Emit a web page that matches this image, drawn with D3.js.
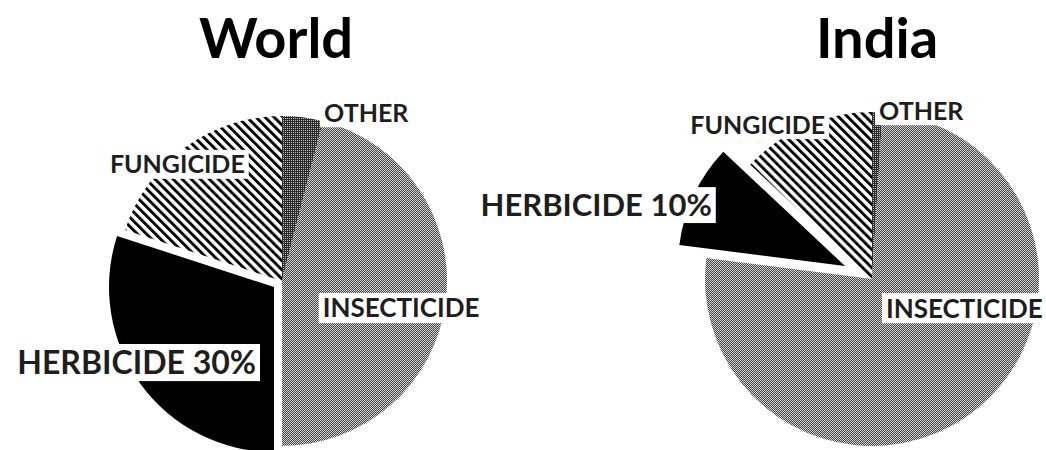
<!doctype html>
<html>
<head>
<meta charset="utf-8">
<script src="https://cdn.jsdelivr.net/npm/d3@7"></script>
<style>
  body { margin: 0; background: #fff; }
  svg { display: block; }
  .title { font-family: Lato, "Open Sans", sans-serif; font-weight: bold; font-size: 56px; fill: #000; }
  .lbl { font-family: Lato, "Open Sans", sans-serif; font-weight: bold; fill: #1e1e1e; }
</style>
</head>
<body>
<svg id="chart" width="1046" height="450"></svg>
<script>
// data (share of pesticide use, %)
var categories = ["OTHER", "INSECTICIDE", "HERBICIDE", "FUNGICIDE"];
var worldShare = [4, 46, 30, 20];
var indiaShare = [1, 76, 10, 13];
var showPercent = [false, false, true, false];
var chartTitles = ["World", "India"];

// layout of the two pies
var charts = [
  { title: chartTitles[0], values: worldShare, cx: 282, cy: 281, r: 165, titleX: 276,
    explode: [0, 0, 10, 0],
    // label placement: [angle in degrees clockwise from top, distance as fraction of radius]
    labelPos: [[26.6, 1.14], [102.8, 0.74], [240.7, 1.01], [318.1, 0.95]],
    labelSize: [25, 26, 32, 25] },
  { title: chartTitles[1], values: indiaShare, cx: 872, cy: 279, r: 167, titleX: 877,
    explode: [0, 0, 30, 0],
    labelPos: [[16.3, 1.05], [107.5, 0.58], [285, 1.71], [323.5, 1.15]],
    labelSize: [25, 26, 31, 25] }
];

var svg = d3.select("#chart");
var defs = svg.append("defs");

// fine checkerboard -> insecticide
var pChk = defs.append("pattern").attr("id", "chk")
  .attr("patternUnits", "userSpaceOnUse").attr("width", 2).attr("height", 2);
pChk.append("rect").attr("width", 2).attr("height", 2).attr("fill", "#d4d4d4");
pChk.append("rect").attr("width", 1).attr("height", 1).attr("fill", "#444");
pChk.append("rect").attr("x", 1).attr("y", 1).attr("width", 1).attr("height", 1).attr("fill", "#444");

// dark grid -> other
var pDark = defs.append("pattern").attr("id", "dark")
  .attr("patternUnits", "userSpaceOnUse").attr("width", 2).attr("height", 2);
pDark.append("rect").attr("width", 2).attr("height", 2).attr("fill", "#2a2a2a");
pDark.append("rect").attr("x", 1).attr("y", 1).attr("width", 1).attr("height", 1).attr("fill", "#bbb");

// diagonal stripes -> fungicide
var pStr = defs.append("pattern").attr("id", "stripe")
  .attr("patternUnits", "userSpaceOnUse").attr("width", 6.4).attr("height", 10)
  .attr("patternTransform", "rotate(-45)");
pStr.append("rect").attr("width", 6.4).attr("height", 10).attr("fill", "#fff");
pStr.append("rect").attr("width", 2.9).attr("height", 10).attr("fill", "#000");

var fills = d3.scaleOrdinal().domain(categories)
  .range(["url(#dark)", "url(#chk)", "#000", "url(#stripe)"]);

var pie = d3.pie().sort(null).value(function(d) { return d.v; });

charts.forEach(function(c) {
  var rows = categories.map(function(cat, i) { return { cat: cat, v: c.values[i], i: i }; });
  var arcs = pie(rows);
  var arc = d3.arc().innerRadius(0).outerRadius(c.r);

  svg.append("text").attr("class", "title")
    .attr("x", c.titleX).attr("y", 58).attr("text-anchor", "middle")
    .text(c.title);

  var g = svg.append("g").attr("transform", "translate(" + c.cx + "," + c.cy + ")");

  g.selectAll("path").data(arcs).enter().append("path")
    .attr("d", arc)
    .attr("fill", function(d) { return fills(d.data.cat); })
    .attr("transform", function(d) {
      var e = c.explode[d.data.i];
      var a = (d.startAngle + d.endAngle) / 2;
      return "translate(" + Math.round(Math.sin(a) * e) + "," + Math.round(-Math.cos(a) * e) + ")";
    });

  // labels with white boxes
  var lg = g.selectAll("g.lab").data(arcs).enter().append("g").attr("class", "lab")
    .attr("transform", function(d) {
      var p = c.labelPos[d.data.i];
      var a = p[0] * Math.PI / 180, dist = p[1] * c.r;
      return "translate(" + (Math.sin(a) * dist) + "," + (-Math.cos(a) * dist) + ")";
    });

  lg.each(function(d) {
    var s = d3.select(this);
    var fs = c.labelSize[d.data.i];
    var txt = d.data.cat + (showPercent[d.data.i] ? " " + d.data.v + "%" : "");
    var t = s.append("text").attr("class", "lbl")
      .attr("font-size", fs)
      .attr("text-anchor", "middle")
      .attr("dy", "0.36em")
      .text(txt);
    var w = t.node().getComputedTextLength();
    s.insert("rect", "text")
      .attr("x", -w / 2 - 4).attr("y", -fs * 0.58)
      .attr("width", w + 8).attr("height", fs * 1.16)
      .attr("fill", "#fff");
  });
});
</script>
</body>
</html>
